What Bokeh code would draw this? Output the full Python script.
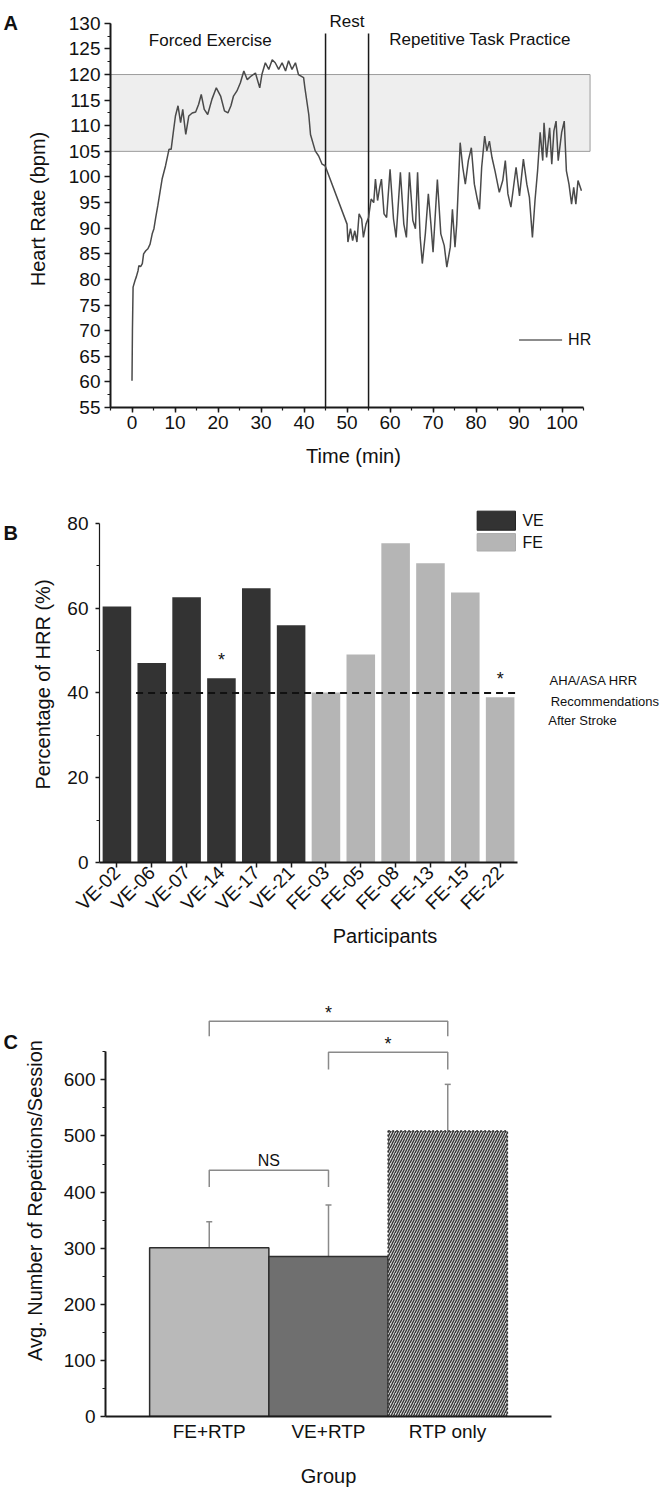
from math import pi
from bokeh.plotting import figure
from bokeh.layouts import column, row
from bokeh.models import (FactorRange, FixedTicker, Range1d, ColumnDataSource, Whisker, TeeHead)
from bokeh.embed import file_html
from bokeh.resources import INLINE
from bokeh.core.properties import value

SANS = "Liberation Sans"
INK = "#1a1a1a"
TXT = "#111111"

# ---------------- data: panel A (heart rate trace) ----------------
hr_time = [0.0, 0.1, 0.25, 0.7, 1.0, 1.4, 1.6, 2.0, 2.4, 2.7, 3.2, 3.7, 4.2, 4.7, 5.1, 5.5,
           6.0, 6.5, 7.0, 7.8, 8.6, 9.1, 9.6, 10.1, 10.7, 11.3, 11.8, 12.5, 13.2, 14.0, 14.8,
           15.5, 16.1, 16.8, 17.6, 18.6, 19.6, 20.6, 21.5, 22.3, 23.0, 23.6, 24.4, 25.2, 26.0,
           26.8, 27.7, 28.7, 29.7, 30.2, 31.0, 31.8, 32.6, 33.3, 34.1, 34.9, 35.7, 36.4, 37.2,
           38.0, 38.7, 39.9, 40.2, 41.1, 41.5, 42.6, 43.4, 44.2, 44.9, 50.0, 50.2, 50.8, 51.3,
           51.8, 52.3, 52.8, 53.4, 53.8, 54.4, 55.0, 55.6, 56.2, 56.6, 57.1, 57.6, 58.0, 58.6,
           59.2, 60.0, 60.8, 61.4, 62.4, 63.2, 63.8, 64.5, 65.3, 65.9, 66.4, 67.0, 67.5, 68.2,
           68.9, 69.5, 70.0, 71.0, 71.8, 72.6, 73.2, 74.0, 74.5, 75.1, 75.5, 76.3, 76.9, 77.5,
           78.2, 78.9, 79.6, 80.2, 80.8, 81.3, 82.0, 82.5, 83.1, 83.7, 84.4, 85.4, 86.2, 86.8,
           87.4, 88.1, 88.7, 89.3, 90.1, 91.0, 91.8, 92.4, 93.1, 93.7, 94.3, 94.9, 95.5, 95.8,
           96.4, 97.1, 97.6, 98.1, 98.6, 99.1, 99.9, 100.5, 101.0, 101.6, 102.2, 102.7, 103.2,
           103.7, 104.5]
hr_bpm = [60.2, 70.0, 78.5, 79.8, 80.5, 81.7, 82.7, 82.5, 83.1, 85.0, 85.6, 86.0, 86.9, 88.9,
          89.9, 92.0, 94.4, 97.0, 99.6, 102.2, 105.4, 105.4, 108.7, 111.9, 113.9, 110.6, 113.2,
          108.3, 111.9, 112.5, 112.7, 114.2, 116.1, 113.2, 112.2, 115.2, 117.4, 115.8, 112.9,
          112.5, 113.9, 115.8, 116.8, 118.4, 120.7, 119.0, 119.7, 120.3, 117.4, 120.0, 122.3,
          121.0, 122.9, 122.3, 121.0, 122.3, 120.7, 122.7, 121.0, 122.3, 120.0, 119.4, 117.4,
          112.2, 108.3, 105.1, 104.1, 102.5, 102.2, 90.8, 87.3, 89.9, 87.6, 89.5, 87.3, 92.8,
          91.8, 88.2, 90.8, 92.1, 95.7, 95.0, 99.6, 95.4, 98.0, 99.6, 92.8, 92.1, 101.5, 91.8,
          88.2, 100.9, 90.8, 88.2, 100.9, 91.5, 89.9, 100.9, 88.2, 83.1, 88.9, 96.7, 90.8, 85.3,
          99.5, 88.9, 86.6, 82.4, 86.3, 93.7, 86.3, 90.8, 106.7, 101.9, 98.6, 103.2, 105.7, 98.6,
          96.0, 93.7, 101.9, 108.0, 105.1, 107.0, 103.8, 101.2, 97.0, 99.3, 103.2, 96.7, 94.1,
          98.0, 101.9, 96.3, 103.5, 98.6, 96.0, 88.2, 95.4, 101.2, 108.7, 103.2, 110.6, 103.8,
          109.6, 102.5, 109.0, 110.9, 103.2, 108.7, 110.9, 101.2, 98.6, 94.7, 98.0, 94.7, 99.3,
          97.3]
target_zone_bpm = [105, 120]
phase_boundaries_min = [45, 55]
phase_names = ["Forced Exercise", "Rest", "Repetitive Task Practice"]

# ---------------- data: panel B (% HRR per participant) ----------------
participants = ["VE-02", "VE-06", "VE-07", "VE-14", "VE-17", "VE-21",
                "FE-03", "FE-05", "FE-08", "FE-13", "FE-15", "FE-22"]
hrr_percent = [60.4, 47.1, 62.6, 43.5, 64.7, 56.0, 40.1, 49.1, 75.3, 70.6, 63.7, 39.0]
participant_group = ["VE", "VE", "VE", "VE", "VE", "VE", "FE", "FE", "FE", "FE", "FE", "FE"]
aha_hrr_threshold = 40
starred_participants = ["VE-14", "FE-22"]

# ---------------- data: panel C (repetitions per session) ----------------
groups = ["FE+RTP", "VE+RTP", "RTP only"]
reps_mean = [301, 285, 509]
reps_sd = [46, 92, 83]
comparisons = [("FE+RTP", "RTP only", "*"), ("VE+RTP", "RTP only", "*"), ("FE+RTP", "VE+RTP", "NS")]


def style_axis(ax, line_width=2.0, tick_out=6, minor_out=3, label_size="19px",
               title_size="20px", label_standoff=4, title_standoff=6):
    ax.axis_line_color = INK
    ax.axis_line_width = line_width
    ax.major_tick_line_color = INK
    ax.major_tick_line_width = 1.5
    ax.major_tick_in = 0
    ax.major_tick_out = tick_out
    ax.minor_tick_line_color = INK
    ax.minor_tick_line_width = 1.2
    ax.minor_tick_in = 0
    ax.minor_tick_out = minor_out
    ax.major_label_text_font = SANS
    ax.major_label_text_font_size = label_size
    ax.major_label_text_color = TXT
    ax.major_label_standoff = label_standoff
    ax.axis_label_text_font = SANS
    ax.axis_label_text_font_size = title_size
    ax.axis_label_text_font_style = "normal"
    ax.axis_label_text_color = TXT
    ax.axis_label_standoff = title_standoff


def base_fig(**kw):
    p = figure(output_backend="svg", toolbar_location=None, **kw)
    p.outline_line_color = None
    p.xgrid.visible = False
    p.ygrid.visible = False
    p.background_fill_color = "white"
    p.border_fill_color = "white"
    return p


def txt(p, x, y, text, size, align="center", style="normal"):
    p.text(x=[x], y=[y], text=[text], text_font=value(SANS), text_font_size=size,
           text_align=align, text_baseline="middle", text_color=TXT, text_font_style=style)


STRIP = 20


def letter_strip(letter, height, y_from_top):
    s = figure(width=STRIP, height=height, x_range=Range1d(0, STRIP), y_range=Range1d(0, height),
               output_backend="svg", toolbar_location=None, x_axis_type=None, y_axis_type=None,
               min_border=0, min_border_left=0, min_border_right=0, min_border_top=0,
               min_border_bottom=0)
    s.outline_line_color = None
    s.grid.visible = False
    txt(s, 3, height - y_from_top, letter, "20px", align="left", style="bold")
    return s


# ======================= Panel A =======================
HA = 478
pA = base_fig(width=670 - STRIP, height=HA, x_range=Range1d(-5, 108), y_range=Range1d(55, 132.5),
              min_border_left=110 - STRIP, min_border_right=74, min_border_top=10,
              min_border_bottom=71)
pA.quad(left=[-5], right=[106.5], bottom=[target_zone_bpm[0]], top=[target_zone_bpm[1]],
        fill_color="#eeeeee", line_color="#9c9c9c", line_width=1, level="underlay")
pA.segment(x0=phase_boundaries_min, y0=[55, 55], x1=phase_boundaries_min, y1=[128, 128],
           line_color=INK, line_width=1.5)
pA.line(hr_time, hr_bpm, line_color="#4a4a4a", line_width=1.5)
txt(pA, 18.2, 126.6, phase_names[0], "17px")
txt(pA, 50.0, 130.3, phase_names[1], "17px")
txt(pA, 80.9, 126.8, phase_names[2], "17px")
pA.segment(x0=[90], y0=[68.2], x1=[100], y1=[68.2], line_color="#8c8c8c", line_width=2)
txt(pA, 101.4, 68.2, "HR", "16px", align="left")

pA.xaxis.ticker = FixedTicker(ticks=list(range(0, 101, 10)), minor_ticks=list(range(-5, 106, 5)))
pA.xaxis.bounds = (-5, 105)
pA.yaxis.ticker = FixedTicker(ticks=list(range(55, 131, 5)),
                              minor_ticks=[55 + 2.5 * i for i in range(31)])
pA.yaxis.bounds = (55, 130)
pA.xaxis.axis_label = "Time (min)"
pA.yaxis.axis_label = "Heart Rate (bpm)"
style_axis(pA.xaxis[0], tick_out=5, label_standoff=3, title_standoff=13)
style_axis(pA.yaxis[0], tick_out=6, label_standoff=4, title_standoff=17)

# ======================= Panel B =======================
HB = 475
xpos = [i + 0.5 for i in range(len(participants))]
pB = base_fig(width=670 - STRIP, height=HB, x_range=Range1d(0, 16.39), y_range=Range1d(0, 84),
              min_border_left=99 - STRIP, min_border_right=0, min_border_top=28,
              min_border_bottom=91)
bar_colors = {"VE": "#333333", "FE": "#b5b5b5"}
srcB = ColumnDataSource(dict(x=xpos, v=hrr_percent, c=[bar_colors[g] for g in participant_group]))
pB.vbar(x="x", top="v", width=0.82, fill_color="c", line_color=None, source=srcB)
pB.segment(x0=[1.05], y0=[aha_hrr_threshold], x1=[12.0], y1=[aha_hrr_threshold],
           line_color=TXT, line_width=2, line_dash="7 5")
pB.text(x=[xpos[participants.index(s)] for s in starred_participants],
        y=[hrr_percent[participants.index(s)] + 4.3 for s in starred_participants],
        text=["*"] * len(starred_participants), text_font=value(SANS),
        text_font_size="18px", text_align="center", text_baseline="middle", text_color=TXT)
# legend
pB.quad(left=[10.84, 10.84], right=[11.94, 11.94], bottom=[78.4, 73.5], top=[82.9, 77.6],
        fill_color=[bar_colors["VE"], bar_colors["FE"]], line_color=["#222222", "#aaaaaa"],
        line_width=1)
txt(pB, 12.14, 80.65, "VE", "16px", align="left")
txt(pB, 12.14, 75.55, "FE", "16px", align="left")
txt(pB, 12.92, 42.9, "AHA/ASA HRR", "13px", align="left")
txt(pB, 12.95, 38.1, "Recommendations", "13px", align="left")
txt(pB, 12.88, 33.4, "After Stroke", "13px", align="left")

pB.xaxis.ticker = FixedTicker(ticks=xpos)
pB.xaxis.major_label_overrides = {x: name for x, name in zip(xpos, participants)}
pB.xaxis.bounds = (0, 12)
pB.xaxis.major_label_orientation = pi / 4
pB.yaxis.ticker = FixedTicker(ticks=[0, 20, 40, 60, 80], minor_ticks=[10, 30, 50, 70])
pB.yaxis.bounds = (0, 80)
pB.xaxis.axis_label = "Participants"
pB.yaxis.axis_label = "Percentage of HRR (%)"
style_axis(pB.xaxis[0], tick_out=5, minor_out=0, label_standoff=2, title_standoff=0)
style_axis(pB.yaxis[0], line_width=1.2, tick_out=4, minor_out=3, label_standoff=7,
           title_standoff=10)

# ======================= Panel C =======================
HC = 536
pC = base_fig(width=670 - STRIP, height=HC,
              x_range=FactorRange(factors=groups, range_padding=0.37,
                                  range_padding_units="absolute"),
              y_range=Range1d(0, 770),
              min_border_left=100 - STRIP, min_border_right=119, min_border_top=31,
              min_border_bottom=72)
pC.vbar(x=groups[:2], top=reps_mean[:2], width=1.0, fill_color=["#b9b9b9", "#6f6f6f"],
        line_color="#2e2e2e", line_width=1.5)
pC.vbar(x=groups[2:], top=reps_mean[2:], width=1.0, fill_color="#d2d2d2",
        hatch_pattern="/", hatch_color="#333333", hatch_scale=5, hatch_weight=1.3,
        line_color="#2e2e2e", line_width=1.5, line_dash="2 2")
srcC = ColumnDataSource(dict(g=groups, lo=reps_mean,
                             hi=[m + s for m, s in zip(reps_mean, reps_sd)]))
pC.add_layout(Whisker(base="g", lower="lo", upper="hi", source=srcC,
                      line_color="#8a8a8a", line_width=1.5,
                      upper_head=TeeHead(size=6, line_color="#8a8a8a", line_width=1.5),
                      lower_head=None))
bracket_levels = [(677.6, 704.3), (618.4, 649.1), (409.0, 438.7)]
bx, by = [], []
for (a, b, _), (lo, hi) in zip(comparisons, bracket_levels):
    ia, ib = groups.index(a) + 0.5, groups.index(b) + 0.5
    bx.append([ia, ia, ib, ib])
    by.append([lo, hi, hi, lo])
pC.multi_line(xs=bx, ys=by, line_color="#8a8a8a", line_width=1.5)
for (a, b, mark), (lo, hi) in zip(comparisons, bracket_levels):
    mid = (groups.index(a) + groups.index(b)) / 2 + 0.5
    txt(pC, mid, hi + (15 if mark == "*" else 17.5), mark, "18px" if mark == "*" else "16px")

pC.yaxis.ticker = FixedTicker(ticks=list(range(0, 601, 100)), minor_ticks=list(range(50, 651, 100)))
pC.yaxis.bounds = (0, 650)
pC.xaxis.axis_label = "Group"
pC.yaxis.axis_label = "Avg. Number of Repetitions/Session"
style_axis(pC.xaxis[0], tick_out=0, label_standoff=4, title_standoff=20)
style_axis(pC.yaxis[0], tick_out=5, minor_out=3, label_standoff=5, title_standoff=15)

layout = column(
    row(letter_strip("A", HA, 15.5), pA),
    row(letter_strip("B", HB, 36), pB),
    row(letter_strip("C", HC, 71), pC),
)
open("out.html", "w").write(file_html(layout, INLINE, title="Heart rate and repetitions"))
